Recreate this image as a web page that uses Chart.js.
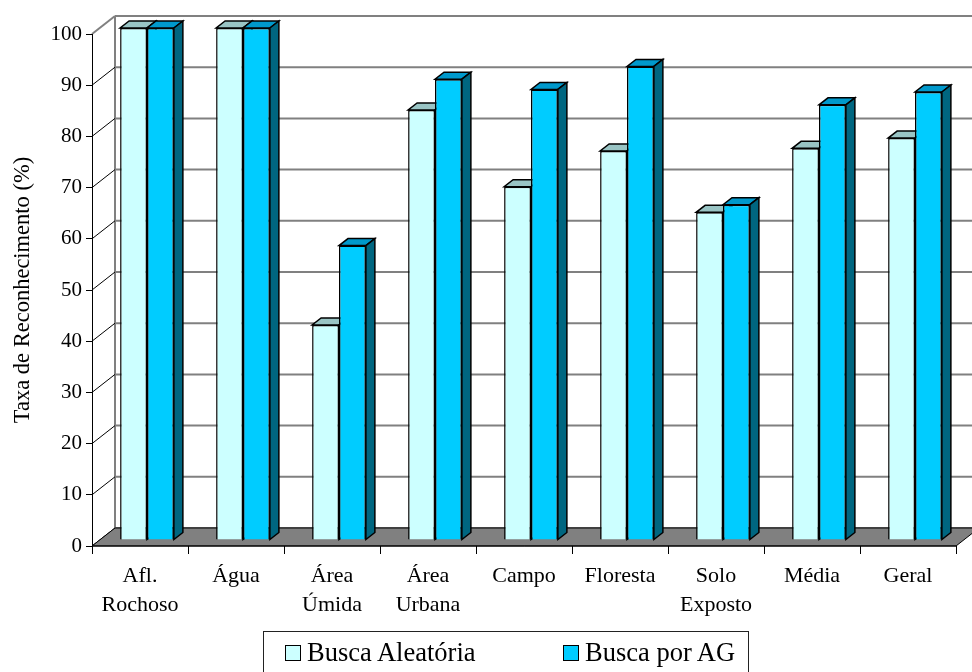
<!DOCTYPE html>
<html>
<head>
<meta charset="utf-8">
<script src="https://cdn.jsdelivr.net/npm/chart.js@4.4.0/dist/chart.umd.min.js"></script>
<style>
    body { margin: 0; background: #fff; }
    #wrap { position: relative; width: 972px; height: 672px; overflow: hidden; }
    #legend {
        position: absolute; left: 263px; top: 631px; width: 486px; height: 60px;
        border: 1px solid #222; box-sizing: border-box;
        font-family: 'Liberation Serif', serif; font-size: 26.5px; color: #000;
    }
    #legend .sw { position: absolute; top: 13px; width: 14px; height: 14px; border: 1px solid #000; }
    #legend .txt { position: absolute; top: 5px; line-height: 30px; white-space: nowrap; }
</style>
</head>
<body>
<div id="wrap">
    <canvas id="chart" width="972" height="672"></canvas>
    <div id="legend">
        <span class="sw" style="left:21px;background:#CCFFFF"></span>
        <span class="txt" style="left:43px">Busca Aleatória</span>
        <span class="sw" style="left:299px;background:#00CCFF"></span>
        <span class="txt" style="left:321px">Busca por AG</span>
    </div>
</div>
<script>
// Data
const categories = [['Afl.', 'Rochoso'], 'Água', ['Área', 'Úmida'], ['Área', 'Urbana'], 'Campo', 'Floresta', ['Solo', 'Exposto'], 'Média', 'Geral'];
const buscaAleatoria = [100, 100, 42, 84, 69, 76, 64, 76.5, 78.5];
const buscaAG = [100, 100, 57.5, 90, 88, 92.5, 65.5, 85, 87.5];
const yMin = 0, yMax = 100, yStep = 10;

// 3D look
const WALL = { dx: 23, dy: -18 };      // back wall offset
const SHIFT = { dx: 7, dy: -6 };       // where the bar fronts sit
const DEPTH = { dx: 9, dy: -7 };       // bar thickness
const faceColors = [
    { top: '#99C4C4', side: '#99C4C4' },
    { top: '#0099CC', side: '#006680' }
];
const FONT = "'Liberation Serif', serif";

function poly(ctx, pts, fill, stroke, lw) {
    ctx.beginPath();
    ctx.moveTo(pts[0][0], pts[0][1]);
    for (let i = 1; i < pts.length; i++) ctx.lineTo(pts[i][0], pts[i][1]);
    ctx.closePath();
    if (fill) { ctx.fillStyle = fill; ctx.fill(); }
    if (stroke) { ctx.strokeStyle = stroke; ctx.lineWidth = lw; ctx.stroke(); }
}

const box3d = {
    id: 'box3d',
    beforeDatasetsDraw(chart) {
        const { ctx, chartArea: a, scales: { y } } = chart;
        ctx.save();

        // back wall grid lines
        ctx.strokeStyle = '#808080';
        ctx.lineWidth = 2;
        for (let v = yMin; v <= yMax; v += yStep) {
            const yy = y.getPixelForValue(v) + WALL.dy;
            ctx.beginPath();
            ctx.moveTo(a.left + WALL.dx, yy);
            ctx.lineTo(a.right + WALL.dx + 5, yy);
            ctx.stroke();
        }
        // left wall edge
        ctx.beginPath();
        ctx.moveTo(a.left + WALL.dx, y.getPixelForValue(yMax) + WALL.dy);
        ctx.lineTo(a.left + WALL.dx, y.getPixelForValue(yMin) + WALL.dy);
        ctx.stroke();

        // side wall diagonals
        for (let v = yMin; v <= yMax; v += yStep) {
            const yy = y.getPixelForValue(v);
            ctx.strokeStyle = v === yMax ? '#808080' : '#000';
            ctx.lineWidth = v === yMax ? 2 : 1;
            ctx.beginPath();
            ctx.moveTo(a.left, yy);
            ctx.lineTo(a.left + WALL.dx, yy + WALL.dy);
            ctx.stroke();
        }

        // floor
        poly(ctx, [
            [a.left, a.bottom], [a.right, a.bottom],
            [a.right + WALL.dx, a.bottom + WALL.dy], [a.left + WALL.dx, a.bottom + WALL.dy]
        ], '#808080', '#000', 1);

        // front axes
        ctx.strokeStyle = '#000';
        ctx.lineWidth = 1;
        ctx.beginPath();
        ctx.moveTo(a.left + 0.5, y.getPixelForValue(yMax));
        ctx.lineTo(a.left + 0.5, a.bottom);
        ctx.lineTo(a.right, a.bottom);
        ctx.stroke();
        ctx.restore();

        // bars: top and side faces, fronts come from the library
        ctx.save();
        ctx.translate(SHIFT.dx, SHIFT.dy);
        chart.data.datasets.forEach((ds, i) => {
            const meta = chart.getDatasetMeta(i);
            meta.data.forEach(bar => {
                const p = bar.getProps(['x', 'y', 'base', 'width'], true);
                const l = p.x - p.width / 2, r = p.x + p.width / 2;
                poly(ctx, [[l, p.y], [r, p.y], [r + DEPTH.dx, p.y + DEPTH.dy], [l + DEPTH.dx, p.y + DEPTH.dy]],
                    faceColors[i].top, '#000', 1.5);
                poly(ctx, [[r, p.y], [r + DEPTH.dx, p.y + DEPTH.dy], [r + DEPTH.dx, p.base + DEPTH.dy], [r, p.base]],
                    faceColors[i].side, '#000', 1.5);
            });
        });
    },
    afterDatasetsDraw(chart) {
        chart.ctx.restore();
    }
};

new Chart(document.getElementById('chart'), {
    type: 'bar',
    data: {
        labels: categories,
        datasets: [
            {
                label: 'Busca Aleatória',
                data: buscaAleatoria,
                backgroundColor: '#CCFFFF',
                borderColor: '#000',
                borderWidth: 1.5,
                clip: false
            },
            {
                label: 'Busca por AG',
                data: buscaAG,
                backgroundColor: '#00CCFF',
                borderColor: '#000',
                borderWidth: 1.5,
                clip: false
            }
        ]
    },
    options: {
        responsive: false,
        animation: false,
        events: [],
        layout: { padding: { top: 34, right: 16, left: 0, bottom: 0 } },
        datasets: { bar: { categoryPercentage: 0.56, barPercentage: 1.0 } },
        plugins: {
            legend: { display: false },
            tooltip: { enabled: false }
        },
        scales: {
            x: {
                grid: { offset: true, drawOnChartArea: false, tickLength: 8, color: '#000' },
                border: { display: false },
                ticks: {
                    font: { family: FONT, size: 22, lineHeight: 1.3 },
                    color: '#000',
                    maxRotation: 0,
                    autoSkip: false,
                    padding: 8
                },
                afterFit: s => { s.height = 126; }
            },
            y: {
                min: yMin,
                max: yMax,
                grid: { drawOnChartArea: false, tickLength: 6, color: '#000' },
                border: { display: false },
                ticks: {
                    stepSize: yStep,
                    font: { family: FONT, size: 21 },
                    color: '#000',
                    padding: 4
                },
                title: {
                    display: true,
                    text: 'Taxa de Reconhecimento (%)',
                    font: { family: FONT, size: 22.5 },
                    color: '#000',
                    padding: { top: 10, bottom: 0 }
                },
                afterFit: s => { s.width = 92; }
            }
        }
    },
    plugins: [box3d]
});
</script>
</body>
</html>
